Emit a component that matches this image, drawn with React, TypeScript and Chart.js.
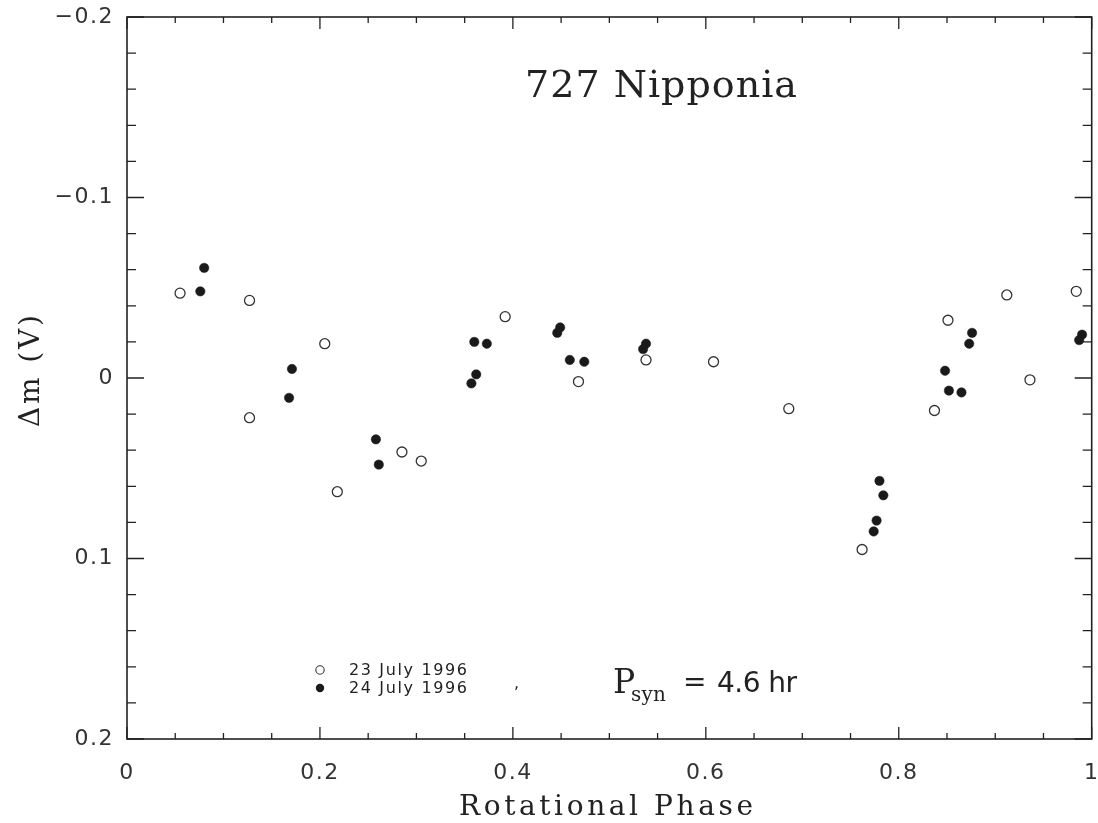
import React, { useEffect, useRef } from "react";
import { Chart, registerables } from "chart.js";

Chart.register(...registerables);

// ---- data ----
const phase23 = [0.055, 0.127, 0.127, 0.205, 0.218, 0.285, 0.305, 0.392, 0.468, 0.538, 0.608, 0.686, 0.762, 0.837, 0.851, 0.912, 0.936, 0.984];
const dm23 = [-0.047, -0.043, 0.022, -0.019, 0.063, 0.041, 0.046, -0.034, 0.002, -0.010, -0.009, 0.017, 0.095, 0.018, -0.032, -0.046, 0.001, -0.048];

const phase24 = [0.080, 0.076, 0.171, 0.168, 0.258, 0.261, 0.360, 0.373, 0.362, 0.357, 0.449, 0.446, 0.459, 0.474, 0.538, 0.535, 0.780, 0.784, 0.777, 0.774, 0.876, 0.873, 0.848, 0.852, 0.865, 0.990, 0.987];
const dm24 = [-0.061, -0.048, -0.005, 0.011, 0.034, 0.048, -0.020, -0.019, -0.002, 0.003, -0.028, -0.025, -0.010, -0.009, -0.019, -0.016, 0.057, 0.065, 0.079, 0.085, -0.025, -0.019, -0.004, 0.007, 0.008, -0.024, -0.021];

const seriesLabels = ["23 July 1996", "24 July 1996"];

const xTickValues = [0, 0.2, 0.4, 0.6, 0.8, 1];
const xTickLabels = ["0", "0.2", "0.4", "0.6", "0.8", "1"];
const yTickValues = [-0.2, -0.1, 0, 0.1, 0.2];
const yTickLabels = ["\u22120.2", "\u22120.1", "0", "0.1", "0.2"];

const TITLE = "727 Nipponia";
const X_TITLE = "Rotational Phase";
const Y_TITLE = "\u0394m (V)";
const PERIOD_VALUE = "4.6 hr";

const INK = "#222";

function spacedText(ctx: CanvasRenderingContext2D, text: string, x: number, y: number, font: string, width: number, align: "center" | "left") {
  ctx.save();
  ctx.font = font;
  (ctx as any).letterSpacing = "0px";
  ctx.textAlign = "left";
  const ws = Array.from(text).map((c) => ctx.measureText(c).width);
  const natural = ws.reduce((a, b) => a + b, 0);
  const n = ws.length;
  const ls = n > 1 ? (width - natural) / (n - 1) : 0;
  let cx = align === "center" ? x - width / 2 : x;
  Array.from(text).forEach((c, i) => {
    ctx.fillText(c, cx, y);
    cx += ws[i] + ls;
  });
  ctx.restore();
}

const framePlugin = {
  id: "frameTicks",
  beforeDraw(chart: any) {
    (chart.ctx as any).letterSpacing = "1.5px";
  },
  beforeDatasetsDraw(chart: any) {
    const { ctx, chartArea: a, scales } = chart;
    (ctx as any).letterSpacing = "0px";
    ctx.save();
    ctx.strokeStyle = INK;
    ctx.lineWidth = 1.6;
    ctx.strokeRect(a.left, a.top, a.right - a.left, a.bottom - a.top);
    ctx.lineWidth = 1.3;
    ctx.beginPath();
    for (let i = 0; i <= 20; i++) {
      const v = i * 0.05;
      const px = scales.x.getPixelForValue(v);
      const len = i % 4 === 0 ? 12 : 6;
      ctx.moveTo(px, a.bottom);
      ctx.lineTo(px, a.bottom - len);
      ctx.moveTo(px, a.top);
      ctx.lineTo(px, a.top + len);
    }
    for (let i = 0; i <= 20; i++) {
      const v = -0.2 + i * 0.02;
      const py = scales.y.getPixelForValue(v);
      const len = i % 5 === 0 ? 17 : 9;
      ctx.moveTo(a.left, py);
      ctx.lineTo(a.left + len, py);
      ctx.moveTo(a.right, py);
      ctx.lineTo(a.right - len, py);
    }
    ctx.stroke();
    ctx.restore();
  },
  afterDraw(chart: any) {
    const { ctx } = chart;
    (ctx as any).letterSpacing = "0px";
    ctx.save();
    ctx.fillStyle = INK;
    ctx.textBaseline = "alphabetic";

    // title
    spacedText(ctx, TITLE, 661, 97, "38px 'DejaVu Serif'", 272, "center");
    // x title
    spacedText(ctx, X_TITLE, 606, 815, "28px 'DejaVu Serif'", 294, "center");
    // y title
    ctx.save();
    ctx.translate(39, 371);
    ctx.rotate(-Math.PI / 2);
    spacedText(ctx, Y_TITLE, 0, 0, "28px 'DejaVu Serif'", 112, "center");
    ctx.restore();

    // legend
    const ds = chart.data.datasets;
    const rows = [670, 688];
    ds.forEach((d: any, i: number) => {
      const y = rows[i];
      ctx.beginPath();
      ctx.arc(320, y, 4.2, 0, Math.PI * 2);
      if (i === 0) {
        ctx.fillStyle = "#fff";
        ctx.fill();
        ctx.strokeStyle = "#333";
        ctx.lineWidth = 1.1;
        ctx.stroke();
      } else {
        ctx.fillStyle = "#1a1a1a";
        ctx.fill();
      }
      ctx.fillStyle = INK;
      ctx.textBaseline = "middle";
      spacedText(ctx, d.label, 349, y + 1, "16px 'DejaVu Sans'", 118, "left");
    });

    // stray mark from the scan
    ctx.textBaseline = "alphabetic";
    ctx.font = "16px 'DejaVu Sans'";
    ctx.fillText(",", 514, 688);

    // period annotation
    ctx.font = "33px 'DejaVu Serif'";
    ctx.fillText("P", 613, 693);
    spacedText(ctx, "syn", 631, 701, "20px 'DejaVu Serif'", 35, "left");
    ctx.font = "28px 'DejaVu Sans'";
    ctx.fillText("=", 683, 691);
    spacedText(ctx, PERIOD_VALUE, 717, 692, "28px 'DejaVu Sans'", 80, "left");
    ctx.restore();
  },
};

export default function App() {
  const ref = useRef<HTMLCanvasElement | null>(null);

  useEffect(() => {
    if (!ref.current) return;
    const chart = new Chart(ref.current, {
      type: "scatter",
      data: {
        datasets: [
          {
            label: seriesLabels[0],
            data: phase23.map((x, i) => ({ x, y: dm23[i] })),
            pointStyle: "circle",
            pointRadius: 5,
            pointBackgroundColor: "#fff",
            pointBorderColor: "#333",
            pointBorderWidth: 1.3,
            clip: false,
          } as any,
          {
            label: seriesLabels[1],
            data: phase24.map((x, i) => ({ x, y: dm24[i] })),
            pointStyle: "circle",
            pointRadius: 4.7,
            pointBackgroundColor: "#1a1a1a",
            pointBorderColor: "#1a1a1a",
            pointBorderWidth: 0.5,
            clip: false,
          } as any,
        ],
      },
      options: {
        animation: false,
        responsive: true,
        maintainAspectRatio: false,
        layout: { padding: { top: 17, right: 5, left: 0, bottom: 0 } },
        plugins: {
          legend: { display: false },
          tooltip: { enabled: false },
          title: { display: false },
        },
        scales: {
          x: {
            type: "linear",
            min: 0,
            max: 1,
            grid: { display: false, drawTicks: false },
            border: { display: false },
            afterBuildTicks: (scale: any) => {
              scale.ticks = xTickValues.map((v) => ({ value: v }));
            },
            afterFit: (scale: any) => {
              scale.height = 84;
              scale.paddingLeft = 0;
              scale.paddingRight = 0;
            },
            ticks: {
              padding: 21,
              maxRotation: 0,
              autoSkip: false,
              color: "#333",
              font: { family: "'DejaVu Sans'", size: 22 },
              callback: (v: any) => {
                const i = xTickValues.findIndex((t) => Math.abs(t - Number(v)) < 1e-6);
                return i >= 0 ? xTickLabels[i] : "";
              },
            },
          },
          y: {
            type: "linear",
            reverse: true,
            min: -0.2,
            max: 0.2,
            grid: { display: false, drawTicks: false },
            border: { display: false },
            afterBuildTicks: (scale: any) => {
              scale.ticks = yTickValues.map((v) => ({ value: v }));
            },
            afterFit: (scale: any) => {
              scale.width = 127;
              scale.paddingTop = 0;
              scale.paddingBottom = 0;
            },
            ticks: {
              padding: 13,
              autoSkip: false,
              color: "#333",
              font: { family: "'DejaVu Sans'", size: 22 },
              callback: (v: any) => {
                const i = yTickValues.findIndex((t) => Math.abs(t - Number(v)) < 1e-6);
                return i >= 0 ? yTickLabels[i] : "";
              },
            },
          },
        },
      },
      plugins: [framePlugin],
    });
    return () => chart.destroy();
  }, []);

  return (
    <div style={{ position: "absolute", left: 0, top: 0, width: 1098, height: 823, background: "#fff" }}>
      <canvas ref={ref} />
    </div>
  );
}
